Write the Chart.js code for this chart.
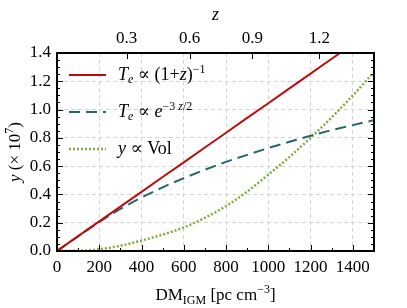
<!DOCTYPE html>
<html>
<head>
<meta charset="utf-8">
<script src="https://cdn.jsdelivr.net/npm/chart.js@4.4.1/dist/chart.umd.min.js"></script>
<style>
html,body{margin:0;padding:0;background:#fff;}
#wrap{width:407px;height:308px;position:relative;}
</style>
</head>
<body>
<div id="wrap"><canvas id="c" width="407" height="308"></canvas></div>
<script>
// Data
const dmValues = [0,100,200,300,400,500,600,700,800,900,1000,1100,1200,1300,1400,1500];
const redValues = [0,0.105,0.209,0.314,0.418,0.523,0.627,0.732,0.836,0.941,1.045,1.150,1.254,1.359,1.463,1.568];
const tealValues = [0,0.104,0.205,0.297,0.378,0.450,0.515,0.575,0.630,0.680,0.728,0.772,0.815,0.855,0.890,0.925];
const greenValues = [0,0.002,0.012,0.037,0.074,0.116,0.167,0.235,0.318,0.420,0.540,0.665,0.800,0.945,1.100,1.265];
const xTickValues = [0,200,400,600,800,1000,1200,1400];
const yTickValues = [0,0.2,0.4,0.6,0.8,1.0,1.2,1.4];
const zTickLabels = ['0.3','0.6','0.9','1.2'];
const zTickDM = [330,627,925,1241];
const seriesLabels = ['Te ∝ (1+z)^-1','Te ∝ e^(-3z/2)','y ∝ Vol'];

const RED = '#bb0d0d', TEAL = '#23686a', GREEN = '#80ac3a';
const SERIF = "'Liberation Serif','DejaVu Serif',serif";

function pts(vals){ return dmValues.map((x,i)=>({x:x,y:vals[i]})); }

function drawRich(ctx, x, y, segs, align){
  let w = 0;
  segs.forEach(s=>{ ctx.font = (s.it?'italic ':'') + s.sz + 'px ' + SERIF; s.w = ctx.measureText(s.t).width; w += s.w; });
  let cx = align==='center' ? x - w/2 : x;
  ctx.textBaseline = 'alphabetic';
  ctx.textAlign = 'left';
  segs.forEach(s=>{ ctx.font = (s.it?'italic ':'') + s.sz + 'px ' + SERIF; ctx.fillText(s.t, cx, y + (s.dy||0)); cx += s.w; });
}

const decor = {
  id:'decor',
  afterDraw(chart){
    const ctx = chart.ctx, a = chart.chartArea;
    const xs = chart.scales.x, ys = chart.scales.y;
    ctx.save();
    ctx.strokeStyle = '#000';
    ctx.fillStyle = '#000';
    ctx.lineWidth = 1;
    ctx.beginPath();
    for(let v=0; v<=1.4001; v+=0.05){
      const py = Math.round(ys.getPixelForValue(v))+0.5;
      const major = Math.abs(v/0.2 - Math.round(v/0.2)) < 1e-6;
      const L = major ? 6 : 3;
      ctx.moveTo(a.left, py); ctx.lineTo(a.left+L, py);
      ctx.moveTo(a.right, py); ctx.lineTo(a.right-L, py);
    }
    for(let v=0; v<=1500; v+=100){
      const px = Math.round(xs.getPixelForValue(v))+0.5;
      const L = (v%200===0) ? 6 : 3;
      ctx.moveTo(px, a.bottom); ctx.lineTo(px, a.bottom-L);
    }
    zTickDM.forEach(v=>{
      const px = Math.round(xs.getPixelForValue(v))+0.5;
      ctx.moveTo(px, a.top); ctx.lineTo(px, a.top+6);
    });
    ctx.stroke();
    ctx.lineWidth = 2;
    ctx.strokeRect(a.left, a.top, a.right-a.left, a.bottom-a.top);

    // axis titles
    drawRich(ctx, (a.left+a.right)/2, 20, [{t:'z', it:true, sz:18}], 'center');
    drawRich(ctx, (a.left+a.right)/2, 300, [
      {t:'DM', sz:17},{t:'IGM', sz:12, dy:4},{t:' [pc cm', sz:17},{t:'−3', sz:12, dy:-7},{t:']', sz:17}], 'center');
    ctx.save();
    ctx.translate(20, (a.top+a.bottom)/2);
    ctx.rotate(-Math.PI/2);
    drawRich(ctx, 0, 0, [{t:'y', it:true, sz:17},{t:' (× 10', sz:17},{t:'7', sz:12, dy:-7},{t:')', sz:17}], 'center');
    ctx.restore();

    // legend
    const rows = [
      {y:75, color:RED, dash:[], w:2, segs:[{t:'T',it:true,sz:18},{t:'e',it:true,sz:12,dy:3},{t:' ∝ (1+',sz:18},{t:'z',it:true,sz:18},{t:')',sz:18},{t:'−1',sz:12,dy:-7}]},
      {y:112, color:TEAL, dash:[11,6], w:2, segs:[{t:'T',it:true,sz:18},{t:'e',it:true,sz:12,dy:3},{t:' ∝ ',sz:18},{t:'e',it:true,sz:18},{t:'−3 ',sz:12,dy:-7},{t:'z',it:true,sz:12,dy:-7},{t:'/2',sz:12,dy:-7}]},
      {y:149, color:GREEN, dash:[2,2], w:2.5, segs:[{t:'y',it:true,sz:18},{t:' ∝ Vol',sz:18}]}
    ];
    rows.forEach(r=>{
      ctx.save();
      ctx.strokeStyle = r.color; ctx.lineWidth = r.w; ctx.setLineDash(r.dash);
      ctx.beginPath(); ctx.moveTo(69, r.y); ctx.lineTo(106, r.y); ctx.stroke();
      ctx.restore();
      ctx.fillStyle = '#000';
      drawRich(ctx, 118, r.y+5, r.segs, 'left');
    });
    ctx.restore();
  }
};

const tickFont = {family: SERIF, size: 17};

new Chart(document.getElementById('c'), {
  type: 'line',
  data: {
    datasets: [
      {label: seriesLabels[0], data: pts(redValues), borderColor: RED, borderWidth: 2, pointRadius: 0, fill:false, tension:0, xAxisID:'x', yAxisID:'y'},
      {label: seriesLabels[1], data: pts(tealValues), borderColor: TEAL, borderWidth: 2, borderDash:[11,6], pointRadius: 0, fill:false, cubicInterpolationMode:'monotone', xAxisID:'x', yAxisID:'y'},
      {label: seriesLabels[2], data: pts(greenValues), borderColor: GREEN, borderWidth: 2.5, borderDash:[2,2], pointRadius: 0, fill:false, cubicInterpolationMode:'monotone', xAxisID:'x', yAxisID:'y'}
    ]
  },
  options: {
    responsive: false,
    animation: false,
    events: [],
    layout: {padding: {left:0, right:33, top:0, bottom:0}},
    plugins: {legend:{display:false}, tooltip:{enabled:false}},
    scales: {
      x: {
        type:'linear', position:'bottom', min:0, max:1500,
        afterBuildTicks(s){ s.ticks = xTickValues.map(v=>({value:v})); },
        afterFit(s){ s.height = 57; },
        ticks:{font:tickFont, color:'#000', padding:6, maxRotation:0, autoSkip:false, callback:v=>String(v)},
        grid:{color:'#d4d4d4', lineWidth:1, drawTicks:false},
        border:{display:false, dash:[4,3]}
      },
      x2: {
        type:'linear', position:'top', min:0, max:1500,
        afterBuildTicks(s){ s.ticks = zTickDM.map(v=>({value:v})); },
        afterFit(s){ s.height = 53; },
        ticks:{font:tickFont, color:'#000', padding:4, maxRotation:0, autoSkip:false, callback:(v,i)=>zTickLabels[i]},
        grid:{display:false, drawTicks:false},
        border:{display:false}
      },
      y: {
        type:'linear', position:'left', min:0, max:1.4,
        afterBuildTicks(s){ s.ticks = yTickValues.map(v=>({value:v})); },
        afterFit(s){ s.width = 57; },
        ticks:{font:tickFont, color:'#000', padding:6, autoSkip:false, callback:v=>v.toFixed(1)},
        grid:{color:'#d4d4d4', lineWidth:1, drawTicks:false},
        border:{display:false, dash:[4,3]}
      }
    }
  },
  plugins: [decor]
});
</script>
</body>
</html>
